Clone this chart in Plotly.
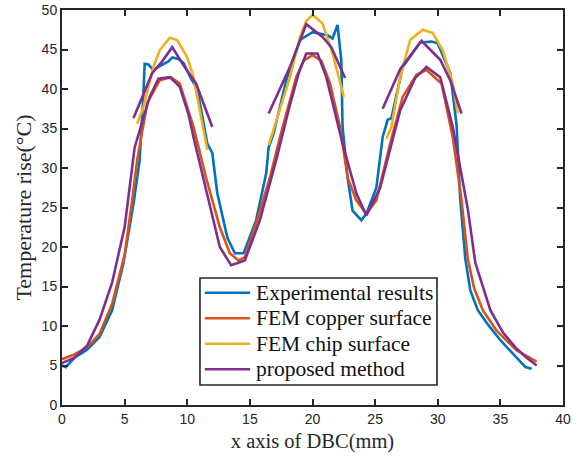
import plotly.graph_objects as go

# ---------------- data ----------------
exp_x = [0.0, 0.3, 0.6, 1.0, 2.0, 3.0, 4.0, 4.9, 5.75, 6.2, 6.5, 6.6, 6.9, 7.3, 7.8, 8.5, 8.8, 9.3, 9.7,
         10.3, 10.8, 11.4, 11.6, 12.0, 12.4, 13.2, 13.8, 14.5, 15.5, 16.3, 16.5, 16.9, 17.9, 19.0, 20.0,
         21.2, 21.6, 22.0, 22.3, 22.4, 22.8, 23.2, 23.9, 24.3, 25.1, 25.6, 26.0, 26.3, 27.0, 27.2, 28.6,
         29.5, 30.0, 31.0, 31.5, 31.8, 32.2, 32.6, 33.2, 34.0, 35.0, 36.3, 37.0, 37.5]
exp_y = [5.0, 4.8, 5.3, 6.0, 7.0, 8.6, 12.0, 17.9, 25.9, 31.0, 39.4, 43.2, 43.1, 42.4, 42.9, 43.5, 44.0, 43.8, 43.3,
         41.3, 40.0, 34.5, 33.1, 31.9, 26.8, 21.2, 19.2, 19.2, 23.4, 29.3, 32.6, 34.4, 41.1, 46.2, 47.2,
         46.8, 46.4, 48.1, 43.6, 35.2, 28.8, 24.6, 23.4, 24.2, 27.5, 33.9, 36.1, 36.3, 41.1, 42.8, 45.9,
         46.0, 45.8, 42.0, 35.5, 25.9, 18.5, 14.5, 12.0, 10.2, 8.2, 6.0, 4.8, 4.6]

cu_x = [0.0, 1.0, 2.0, 3.0, 4.0, 5.0, 5.6, 6.0, 6.8, 7.8, 8.7, 9.4, 10.5, 11.5, 12.6, 13.4, 14.1, 14.6,
        15.5, 16.6, 17.4, 18.7, 19.3, 20.0, 20.7, 21.4, 22.2, 22.8, 23.5, 24.3, 25.1, 26.2, 27.2, 28.3,
        29.1, 30.3, 31.2, 31.9, 32.4, 32.9, 33.6, 34.7, 36.3, 37.9]
cu_y = [5.8, 6.4, 7.3, 9.0, 12.8, 19.0, 25.9, 31.0, 38.2, 41.1, 41.5, 40.7, 35.2, 28.8, 22.5, 19.2, 18.3, 18.7,
        23.0, 28.8, 33.9, 41.5, 43.6, 44.3, 43.6, 40.7, 35.2, 28.8, 25.9, 24.2, 25.9, 33.1, 39.0, 41.8,
        42.4, 40.7, 33.9, 25.9, 18.5, 14.8, 12.0, 9.4, 6.9, 5.5]

chip_x1 = [6.0, 6.5, 7.3, 7.8, 8.6, 9.2, 10.0, 10.5, 11.0, 11.6]
chip_y1 = [35.6, 37.7, 42.8, 44.9, 46.5, 46.2, 44.0, 41.5, 37.3, 32.3]
chip_x2 = [16.5, 16.8, 17.5, 18.2, 19.0, 19.5, 20.0, 20.8, 21.6, 22.0, 22.5]
chip_y2 = [32.9, 34.4, 38.0, 41.5, 46.6, 48.6, 49.4, 48.3, 44.5, 42.2, 39.0]
chip_x3 = [25.9, 26.3, 27.0, 27.8, 28.8, 29.6, 30.4, 31.2, 31.6]
chip_y3 = [33.7, 35.2, 41.5, 46.2, 47.5, 47.1, 44.9, 40.7, 36.9]

pm_x = [0.0, 1.0, 2.0, 3.0, 4.0, 5.0, 5.8, 7.0, 7.7, 8.6, 9.4, 10.1, 10.5, 11.5, 12.6, 13.5, 14.6, 15.8,
        17.1, 18.2, 18.9, 19.5, 20.4, 21.1, 22.4, 23.5, 24.3, 25.4, 27.0, 28.2, 29.1, 30.2, 31.2, 32.4,
        33.0, 34.2, 35.2, 36.2, 37.0, 37.9]
pm_y = [5.3, 6.0, 7.5, 10.8, 15.5, 22.5, 32.6, 39.0, 41.3, 41.5, 40.3, 36.8, 33.9, 27.2, 20.0, 17.7, 18.3, 23.4,
        31.0, 38.0, 42.0, 44.5, 44.5, 41.5, 33.1, 26.8, 24.0, 27.5, 37.3, 41.4, 42.8, 41.5, 35.2, 24.8,
        18.0, 12.0, 9.2, 7.3, 6.1, 5.0]

pm_up_x1 = [5.7, 6.5, 7.2, 8.0, 8.8, 9.7, 10.7, 12.0]
pm_up_y1 = [36.3, 39.4, 42.0, 43.5, 45.3, 43.0, 40.7, 35.2]
pm_up_x2 = [16.5, 18.2, 19.5, 20.8, 21.5, 22.6]
pm_up_y2 = [36.9, 42.8, 48.2, 46.6, 45.3, 41.4]
pm_up_x3 = [25.6, 27.0, 28.7, 30.2, 31.0, 31.9]
pm_up_y3 = [37.5, 42.5, 46.1, 43.7, 41.1, 36.9]

names = ["Experimental results", "FEM copper surface", "FEM chip surface", "proposed method"]
colors = ["#0072BD", "#D95319", "#EDB120", "#7E2F8E"]
x_ticks = [0, 5, 10, 15, 20, 25, 30, 35, 40]
y_ticks = [0, 5, 10, 15, 20, 25, 30, 35, 40, 45, 50]


def join(*segs):
    out = []
    for i, s in enumerate(segs):
        if i:
            out.append(None)
        out.extend(s)
    return out


chip_x = join(chip_x1, chip_x2, chip_x3)
chip_y = join(chip_y1, chip_y2, chip_y3)
pm_all_x = join(pm_x, pm_up_x1, pm_up_x2, pm_up_x3)
pm_all_y = join(pm_y, pm_up_y1, pm_up_y2, pm_up_y3)

LW = 2.6
series = [(exp_x, exp_y), (cu_x, cu_y), (chip_x, chip_y), (pm_all_x, pm_all_y)]
fig = go.Figure()
for (sx, sy), nm, col in zip(series, names, colors):
    fig.add_trace(go.Scatter(x=sx, y=sy, mode="lines", name=nm,
                             line=dict(color=col, width=LW), connectgaps=False,
                             showlegend=False))

SERIF = "Liberation Serif, Times New Roman, serif"

# ---- legend box (MATLAB-style, compact) drawn in plot-area (paper) coordinates ----
LEG_X0, LEG_X1, LEG_Y0, LEG_Y1 = 0.2754, 0.7485, 0.0506, 0.3215
ROW_TOP, ROW_STEP = 0.2843, 0.0646
SAMPLE_X0, SAMPLE_X1, TEXT_X = 0.285, 0.3755, 0.3835
fig.add_shape(type="rect", xref="paper", yref="paper",
              x0=LEG_X0, x1=LEG_X1, y0=LEG_Y0, y1=LEG_Y1,
              line=dict(color="#262626", width=1.6), fillcolor="white", layer="above")
for i, (nm, col) in enumerate(zip(names, colors)):
    yy = ROW_TOP - i * ROW_STEP
    fig.add_shape(type="line", xref="paper", yref="paper",
                  x0=SAMPLE_X0, x1=SAMPLE_X1, y0=yy, y1=yy,
                  line=dict(color=col, width=LW), layer="above")
    fig.add_annotation(xref="paper", yref="paper", x=TEXT_X, y=yy,
                       xanchor="left", yanchor="middle", showarrow=False,
                       text=nm, font=dict(family=SERIF, size=21.5, color="#111111"))

axis_common = dict(
    showline=True, linecolor="#262626", linewidth=2, mirror="ticks",
    ticks="inside", ticklen=6, tickwidth=1.5, tickcolor="#262626",
    showgrid=False, zeroline=False, automargin=False, ticklabeloverflow="allow",
    tickfont=dict(family="Liberation Sans, Arial, sans-serif", size=14, color="#262626"),
)

fig.update_layout(
    width=584, height=458,
    margin=dict(l=62, r=21, t=10, b=53),
    paper_bgcolor="white", plot_bgcolor="white",
    showlegend=False,
    xaxis=dict(range=[0, 40], tickvals=x_ticks,
               title=dict(text="x axis of DBC(mm)", standoff=8,
                          font=dict(family=SERIF, size=20.5, color="#262626")),
               **axis_common),
    yaxis=dict(range=[0, 50], tickvals=y_ticks,
               title=dict(text="Temperature rise(°C)", standoff=4,
                          font=dict(family=SERIF, size=22, color="#262626")),
               **axis_common),
)

# remove the browser's default 8px page margin so the figure fills the window exactly
fig.write_html("out.html", config={"displayModeBar": False},
               post_script="document.body.style.margin='0';")
